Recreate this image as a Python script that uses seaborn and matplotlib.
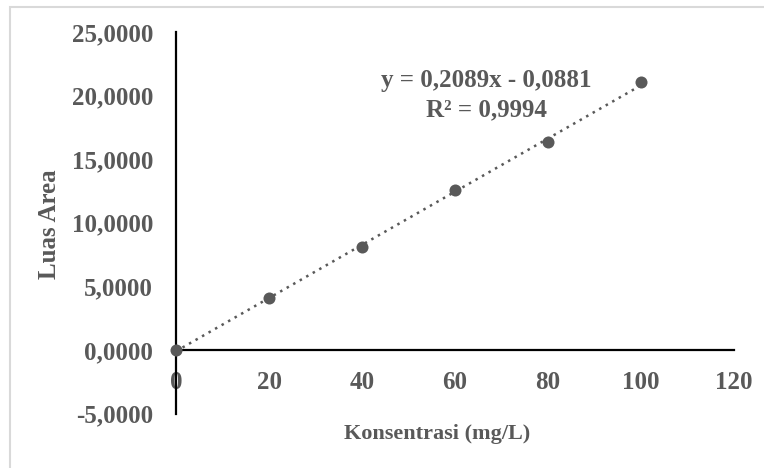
import numpy as np
import pandas as pd
import matplotlib
matplotlib.use("Agg")
import matplotlib.pyplot as plt
from matplotlib.patches import Rectangle
import seaborn as sns

# Data
konsentrasi = [0, 20, 40, 60, 80, 100]
luas_area = [0.0, 4.10, 8.12, 12.55, 16.32, 21.05]
x_ticks = [0, 20, 40, 60, 80, 100, 120]
y_ticks = [-5, 0, 5, 10, 15, 20, 25]
equation_text = "y = 0,2089x - 0,0881"
r2_text = "R² = 0,9994"

sns.set_theme(style="white")
plt.rcParams['font.family'] = ['Liberation Serif', 'DejaVu Serif']

gray = "#595959"
df = pd.DataFrame({"x": konsentrasi, "y": luas_area})

fig = plt.figure(figsize=(7.64, 4.68), dpi=100)
fig.patch.set_facecolor("white")
# light gray outer border of the chart area
fig.patches.append(Rectangle((10/764, -0.1), 1.1, 1 - 7/468 + 0.1, transform=fig.transFigure,
                             fill=False, edgecolor="#d9d9d9", linewidth=1.5))

ax = fig.add_axes([176/764, 1 - 413.6/468, (734 - 176)/764, (413.6 - 32)/468])
ax.set_facecolor("none")

# trendline
coef = np.polyfit(konsentrasi, luas_area, 1)
tx = np.array([min(konsentrasi), max(konsentrasi)])
trend = pd.DataFrame({"x": tx, "y": np.polyval(coef, tx)})
sns.lineplot(data=trend, x="x", y="y", ax=ax, color=gray, linestyle=(0, (1, 2)),
             linewidth=1.8, zorder=2)
sns.scatterplot(data=df, x="x", y="y", ax=ax, color=gray, s=75, edgecolor=gray,
                linewidth=0, zorder=3, clip_on=False)

ax.spines["top"].set_visible(False)
ax.spines["right"].set_visible(False)
ax.spines["left"].set_position(("data", 0))
ax.spines["bottom"].set_position(("data", 0))
for s in ["left", "bottom"]:
    ax.spines[s].set_color("black")
    ax.spines[s].set_linewidth(1.6)
    ax.spines[s].set_zorder(2.5)

ax.set_xlim(0, 120)
ax.set_ylim(-5, 25)
ax.tick_params(axis="both", length=0, labelsize=18, labelcolor=gray)
ax.tick_params(axis="y", pad=16.5)
ax.tick_params(axis="x", pad=15)
ax.set_xticks(x_ticks)
ax.set_yticks(y_ticks)
ax.set_xticklabels([str(v) for v in x_ticks], fontweight="bold", color=gray, fontsize=18)
ax.set_yticklabels([f"{v:,.4f}".replace(".", ",") for v in y_ticks],
                   fontweight="bold", color=gray, fontsize=18)

ax.set_xlabel("")
ax.set_ylabel("")
fig.text(437/764, 1 - 434/468, "Konsentrasi (mg/L)", ha="center", va="center",
         fontsize=16, fontweight="bold", color=gray)
fig.text(49/764, 1 - 224/468, "Luas Area", ha="center", va="center", rotation=90,
         fontsize=18, fontweight="bold", color=gray)

ax.text(66.7, 21.15, equation_text, ha="center", va="center", fontsize=18,
        fontweight="bold", color=gray)
ax.text(66.7, 18.85, r2_text, ha="center", va="center", fontsize=18,
        fontweight="bold", color=gray)

fig.savefig("out.png", dpi=100)
